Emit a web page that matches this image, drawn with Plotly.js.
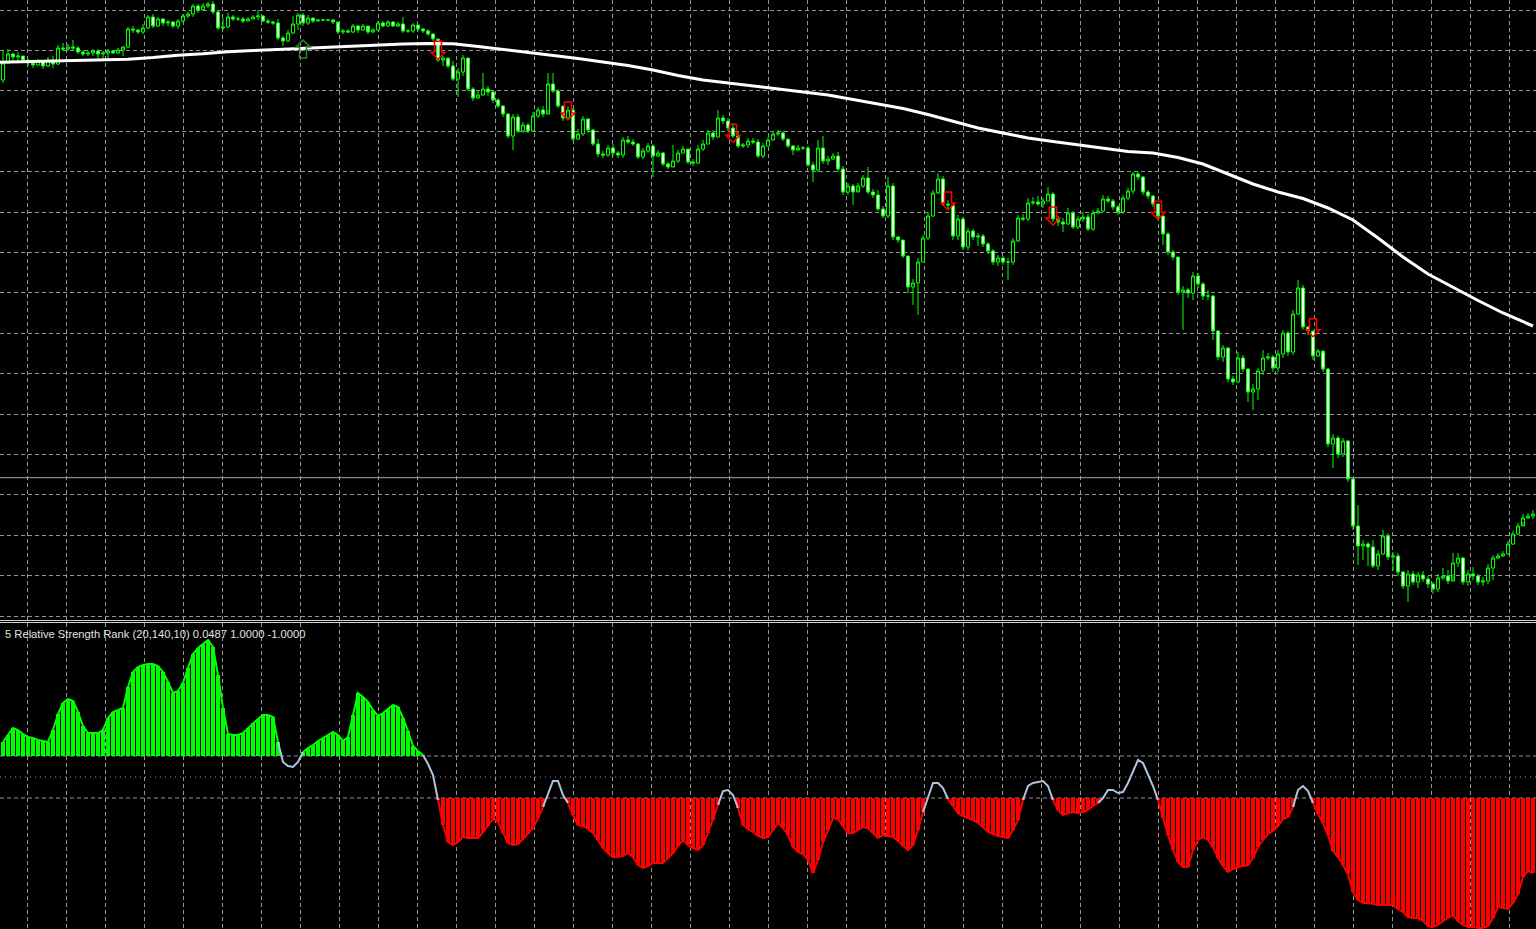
<!DOCTYPE html>
<html><head><meta charset="utf-8">
<script src="https://cdn.plot.ly/plotly-3.0.1.min.js"></script>
<style>html,body{margin:0;padding:0;background:#000;overflow:hidden}#chart{width:1536px;height:929px}</style>
</head><body><div id="chart"></div>
<script>
// ---- price data (arbitrary points units), one value per bar ----
const firstOpen = 920;
const closes = [
937,946,943,944,940,937,935,939,934,940,
936,952,951,953,952,948,946,947,949,946,
947,949,947,950,953,971,970,968,972,983,
974,981,977,978,974,979,984,986,994,990,
994,996,988,972,973,983,981,981,979,981,
983,984,979,978,977,962,959,967,976,985,
977,982,979,980,980,980,978,968,969,968,
974,970,974,968,970,977,974,978,974,976,
969,969,975,971,969,966,961,940,942,934,
921,928,942,911,902,905,911,908,900,894,
886,864,883,869,875,869,884,890,886,916,
909,894,882,890,861,866,881,870,856,846,
845,852,847,845,860,858,856,843,849,854,
844,847,836,833,839,847,851,838,837,851,
856,867,863,882,879,872,864,854,855,859,
858,844,854,860,866,867,861,854,850,852,
852,835,830,852,839,841,844,831,808,814,
808,814,822,808,805,791,784,814,763,760,
744,713,717,738,762,784,807,821,796,795,
764,781,753,769,763,764,756,749,738,742,
738,738,759,782,781,797,798,796,799,806,
781,778,776,787,773,781,783,771,787,789,
801,799,793,788,802,809,826,823,808,804,
796,784,766,748,743,708,710,707,724,716,
704,704,669,643,652,621,618,642,631,608,
611,629,642,643,632,646,667,648,686,712,
673,669,644,649,631,556,562,546,559,521,
474,454,456,453,434,446,464,443,444,428,
414,426,418,425,421,416,411,422,424,419,
437,442,418,426,424,418,419,432,442,444,
446,456,466,474,482,484,486];
const highs = [
950,951,947,948,944,941,939,941,940,943,
944,955,957,956,960,954,950,949,951,951,
949,951,950,952,954,973,974,971,976,985,
986,983,982,980,979,981,986,988,996,996,
997,998,999,989,982,987,985,983,983,983,
985,990,985,981,979,981,964,970,984,987,
987,985,982,981,981,981,981,976,971,971,
976,975,976,970,972,979,979,980,979,978,
983,971,977,975,972,971,967,960,944,940,
939,932,945,942,913,909,927,914,909,902,
895,887,886,886,878,877,888,893,894,927,
927,911,894,894,892,871,884,882,871,861,
849,855,856,849,863,864,861,857,852,857,
856,850,848,838,855,850,854,850,841,855,
860,870,870,890,885,882,877,868,857,862,
862,861,857,863,869,870,869,860,855,855,
854,854,838,860,864,844,847,848,834,817,
816,817,825,833,811,810,794,823,817,764,
760,744,721,742,765,788,810,827,824,800,
795,785,783,772,771,767,766,758,751,745,
744,742,762,785,786,802,803,804,802,813,
808,784,782,792,789,784,788,786,790,792,
805,804,801,795,805,812,828,828,824,810,
805,796,784,768,750,743,714,712,728,727,
718,710,705,670,655,653,624,648,645,632,
616,632,650,647,645,650,670,669,690,720,
715,674,668,651,647,632,566,564,562,560,
522,495,460,458,460,450,470,467,448,447,
429,430,429,428,429,424,418,426,432,430,
447,447,443,430,433,426,423,436,445,447,
449,459,469,477,486,487,490];
const lows = [
917,937,939,937,937,934,932,934,931,933,
932,935,949,949,949,946,944,944,944,942,
940,941,946,946,944,952,967,966,966,971,
972,973,974,974,972,971,977,982,983,987,
991,992,986,970,970,972,979,979,977,979,
981,980,978,976,975,960,954,958,966,970,
974,975,977,979,979,979,976,966,966,967,
967,967,969,966,967,969,973,973,973,973,
967,967,967,969,967,964,959,938,934,932,
919,903,924,909,899,901,904,904,897,892,
883,862,850,867,867,867,868,882,883,890,
907,892,879,881,859,860,864,867,854,843,
842,843,844,842,842,856,854,841,841,847,
823,843,834,831,834,837,847,836,834,836,
849,856,860,862,876,869,862,852,852,852,
856,842,842,854,861,864,859,852,845,849,
850,833,818,828,836,835,840,828,805,805,
795,811,812,806,802,789,782,782,760,757,
742,707,695,685,738,760,783,806,794,791,
760,760,750,750,760,754,753,746,735,734,
735,720,735,758,779,779,795,794,792,799,
778,774,768,775,771,771,778,769,769,786,
788,797,790,785,786,800,806,820,805,801,
793,780,755,745,740,705,670,702,700,712,
700,700,660,640,638,618,615,617,628,598,
590,600,625,640,628,628,642,644,645,685,
670,665,640,643,628,553,532,542,543,518,
470,435,440,434,432,430,445,440,429,424,
411,398,415,412,418,412,406,408,420,416,
426,433,415,414,420,415,414,416,420,441,
443,445,455,465,478,481,481];

// moving average (sampled every 5 bars)
const maBars = [-1,0,5,10,15,20,25,30,35,40,45,50,55,60,65,70,75,80,85,90,95,100,105,110,115,120,125,130,135,140,145,150,155,160,165,170,175,180,185,190,195,200,205,210,215,220,225,230,235,240,245,250,255,260,265,270,275,280,285,290,295,300,305,306];
const maValues = [937.7,937.8,938.2,938.9,939.5,940,940.8,942.5,944.8,946.2,948.2,949.4,950.5,951.7,953,954.2,955.2,956,956.5,956.2,953.5,950.5,947.5,944.8,941.5,938,934.5,930,924.5,920,917,914,911,908.5,905,900.5,896,891.5,885.5,878.5,872,867,862,858.5,855.2,851.7,848.5,847,842.5,836,826,816,808,801.5,792,780,762,743,726,712.5,699.5,687,675.5,674];

const bidPrice = 522.3;
const sellArrowBars = [87,113,146,189,210,231,262];
const sellArrowPrices = [940.7,880,857.7,790,775,780.7,663.3];
const buyArrowBars = [60];
const buyArrowPrices = [960];

// ---- indicator: Relative Strength Rank (scaled), one value per bar ----
const rsr = [
35,42,49,47,43,40,39,37,36,35,
47,63,74,78,76,65,51,44,44,44,
47,59,65,67,69,90,105,110,112,113,
113,111,105,95,84,86,94,109,123,129,
133,137,130,102,69,43,42,42,44,49,
54,58,62,62,60,35,15,11,10,15,
25,29,32,36,39,42,45,42,36,40,
62,84,80,75,67,61,64,68,72,70,
59,46,31,26,22,13,2,-23,-48,-65,
-68,-65,-60,-61,-61,-61,-55,-49,-42,-45,
-56,-66,-68,-67,-62,-57,-51,-41,-30,-16,
-4,-4,-18,-26,-38,-48,-49,-52,-56,-63,
-71,-76,-80,-80,-79,-76,-80,-88,-91,-89,
-86,-86,-86,-81,-76,-69,-63,-68,-71,-73,
-68,-56,-43,-28,-14,-13,-18,-31,-48,-52,
-55,-59,-61,-60,-53,-46,-51,-58,-70,-75,
-77,-83,-96,-83,-65,-53,-41,-42,-49,-56,
-56,-53,-50,-51,-56,-61,-58,-59,-60,-64,
-69,-73,-68,-53,-35,-20,-6,-6,-11,-22,
-29,-36,-39,-41,-43,-46,-50,-55,-57,-59,
-60,-61,-53,-43,-23,-9,-6,-5,-4,-9,
-23,-33,-38,-36,-35,-36,-35,-33,-29,-26,
-21,-13,-13,-16,-15,-6,5,17,14,3,
-9,-23,-41,-58,-73,-85,-90,-90,-73,-63,
-60,-63,-70,-81,-89,-95,-92,-90,-89,-88,
-81,-70,-63,-57,-54,-49,-42,-40,-30,-13,
-9,-14,-26,-37,-46,-58,-74,-80,-88,-97,
-115,-123,-126,-126,-127,-128,-128,-128,-128,-132,
-135,-140,-141,-141,-144,-149,-150,-148,-144,-141,
-138,-144,-148,-150,-150,-151,-151,-149,-141,-130,
-131,-132,-126,-117,-100,-94,-96];
const upperLevel = 21;
const lowerLevel = -21;
const indicatorLabel = "5 Relative Strength Rank (20,140,10) 0.0487 1.0000 -1.0000";

// ---- build ----
const W = 1536, H = 929;
const bars = closes.map((_, i) => i);
const opens = [firstOpen].concat(closes.slice(0, -1));

const greenX = [], greenY = [], redX = [], redY = [];
rsr.forEach((v, i) => {
  if (v > upperLevel) { greenX.push(i); greenY.push(v - upperLevel); }
  else if (v < lowerLevel) { redX.push(i); redY.push(v - lowerLevel); }
});
const inBand = v => v >= lowerLevel && v <= upperLevel;
const lineGreen = rsr.map(v => v > upperLevel ? v : null);
const lineRed = rsr.map(v => v < lowerLevel ? v : null);
const lineGray = rsr.map((v, i) => (inBand(v) || (i > 0 && inBand(rsr[i-1])) || (i < rsr.length-1 && inBand(rsr[i+1]))) ? v : null);

const gridColor = '#949494';
const gridDash = '4px,3px';
const xRange = [-0.6, 306.6];
const xGrid = {range: xRange, showticklabels:false, ticks:'', showgrid:true, gridcolor:gridColor, gridwidth:1,
  griddash:gridDash, tickmode:'linear', tick0:4.86, dtick:7.8, zeroline:false, showline:false, fixedrange:true,
  rangeslider:{visible:false}};

const traces = [
  {type:'candlestick', x:bars, open:opens, high:highs, low:lows, close:closes, xaxis:'x', yaxis:'y',
   increasing:{line:{color:'#00ff00', width:1}, fillcolor:'#000000'},
   decreasing:{line:{color:'#00ff00', width:1}, fillcolor:'#e8ffe8'},
   whiskerwidth:0, hoverinfo:'skip'},
  {type:'scatter', mode:'lines', x:maBars, y:maValues, xaxis:'x', yaxis:'y',
   line:{color:'#ffffff', width:3}, hoverinfo:'skip'},
  {type:'bar', x:greenX, y:greenY, base:upperLevel, width:0.8, xaxis:'x2', yaxis:'y2',
   marker:{color:'#00ff00', line:{width:0}}, hoverinfo:'skip'},
  {type:'bar', x:redX, y:redY, base:lowerLevel, width:0.8, xaxis:'x2', yaxis:'y2',
   marker:{color:'#ff0000', line:{width:0}}, hoverinfo:'skip'},
  {type:'scatter', mode:'lines', x:bars, y:lineGray, xaxis:'x2', yaxis:'y2',
   line:{color:'#b0c4de', width:2}, connectgaps:false, hoverinfo:'skip'},
  {type:'scatter', mode:'lines', x:bars, y:lineGreen, xaxis:'x2', yaxis:'y2',
   line:{color:'#00ff00', width:2}, connectgaps:false, hoverinfo:'skip'},
  {type:'scatter', mode:'lines', x:bars, y:lineRed, xaxis:'x2', yaxis:'y2',
   line:{color:'#ff0000', width:2}, connectgaps:false, hoverinfo:'skip'}
];

const downPath = 'M0,0L-7,7L-3.5,7L-3.5,18L3.5,18L3.5,7L7,7Z';
const upPath = 'M0,0L-7,-7L-3.5,-7L-3.5,-18L3.5,-18L3.5,-7L7,-7Z';
const shapes = [
  {type:'line', xref:'paper', x0:0, x1:1, yref:'y', y0:bidPrice, y1:bidPrice, line:{color:'#a4a8b0', width:1}},
  {type:'line', xref:'paper', x0:0, x1:1, yref:'paper', y0:1-620.5/H, y1:1-620.5/H, line:{color:'#d0d0d0', width:1}},
  {type:'line', xref:'paper', x0:0, x1:1, yref:'paper', y0:1-622.5/H, y1:1-622.5/H, line:{color:'#d0d0d0', width:1}},
  {type:'line', xref:'paper', x0:0, x1:1, yref:'y2', y0:upperLevel, y1:upperLevel, layer:'below', line:{color:gridColor, width:1, dash:gridDash}},
  {type:'line', xref:'paper', x0:0, x1:1, yref:'y2', y0:0, y1:0, layer:'below', line:{color:gridColor, width:1, dash:'1px,4px'}},
  {type:'line', xref:'paper', x0:0, x1:1, yref:'y2', y0:lowerLevel, y1:lowerLevel, layer:'below', line:{color:gridColor, width:1, dash:gridDash}}
];
sellArrowBars.forEach((b, k) => shapes.push({type:'path', xref:'x', yref:'y', xsizemode:'pixel', ysizemode:'pixel',
  xanchor:b, yanchor:sellArrowPrices[k], path:downPath, line:{color:'#ff0000', width:1.5}, fillcolor:'rgba(0,0,0,0)'}));
buyArrowBars.forEach((b, k) => shapes.push({type:'path', xref:'x', yref:'y', xsizemode:'pixel', ysizemode:'pixel',
  xanchor:b, yanchor:buyArrowPrices[k], path:upPath, line:{color:'#228b22', width:1.5}, fillcolor:'rgba(0,0,0,0)'}));

const layout = {
  width:W, height:H, margin:{l:0, r:0, t:0, b:0, pad:0},
  paper_bgcolor:'#000000', plot_bgcolor:'#000000', showlegend:false, hovermode:false,
  barmode:'overlay', boxgap:0.4, boxgroupgap:0,
  xaxis: Object.assign({anchor:'y'}, xGrid),
  xaxis2: Object.assign({anchor:'y2'}, xGrid),
  yaxis: {domain:[1-620/H, 1], range:[380, 1000], showticklabels:false, ticks:'', showgrid:true,
    gridcolor:gridColor, gridwidth:1, griddash:gridDash, tickmode:'linear', tick0:990, dtick:40.4,
    zeroline:false, showline:false, fixedrange:true},
  yaxis2: {domain:[0, 306/H], range:[-152, 154], showticklabels:false, ticks:'', showgrid:false,
    zeroline:false, showline:false, fixedrange:true},
  shapes: shapes,
  annotations: [{text:indicatorLabel, xref:'paper', yref:'paper', x:3/W, y:1-634/H, xanchor:'left', yanchor:'middle',
    showarrow:false, font:{family:'Liberation Sans, Arial, sans-serif', size:11.2, color:'#e0e0e0'}}]
};

Plotly.newPlot('chart', traces, layout, {staticPlot:true, displayModeBar:false});
</script>
</body></html>
